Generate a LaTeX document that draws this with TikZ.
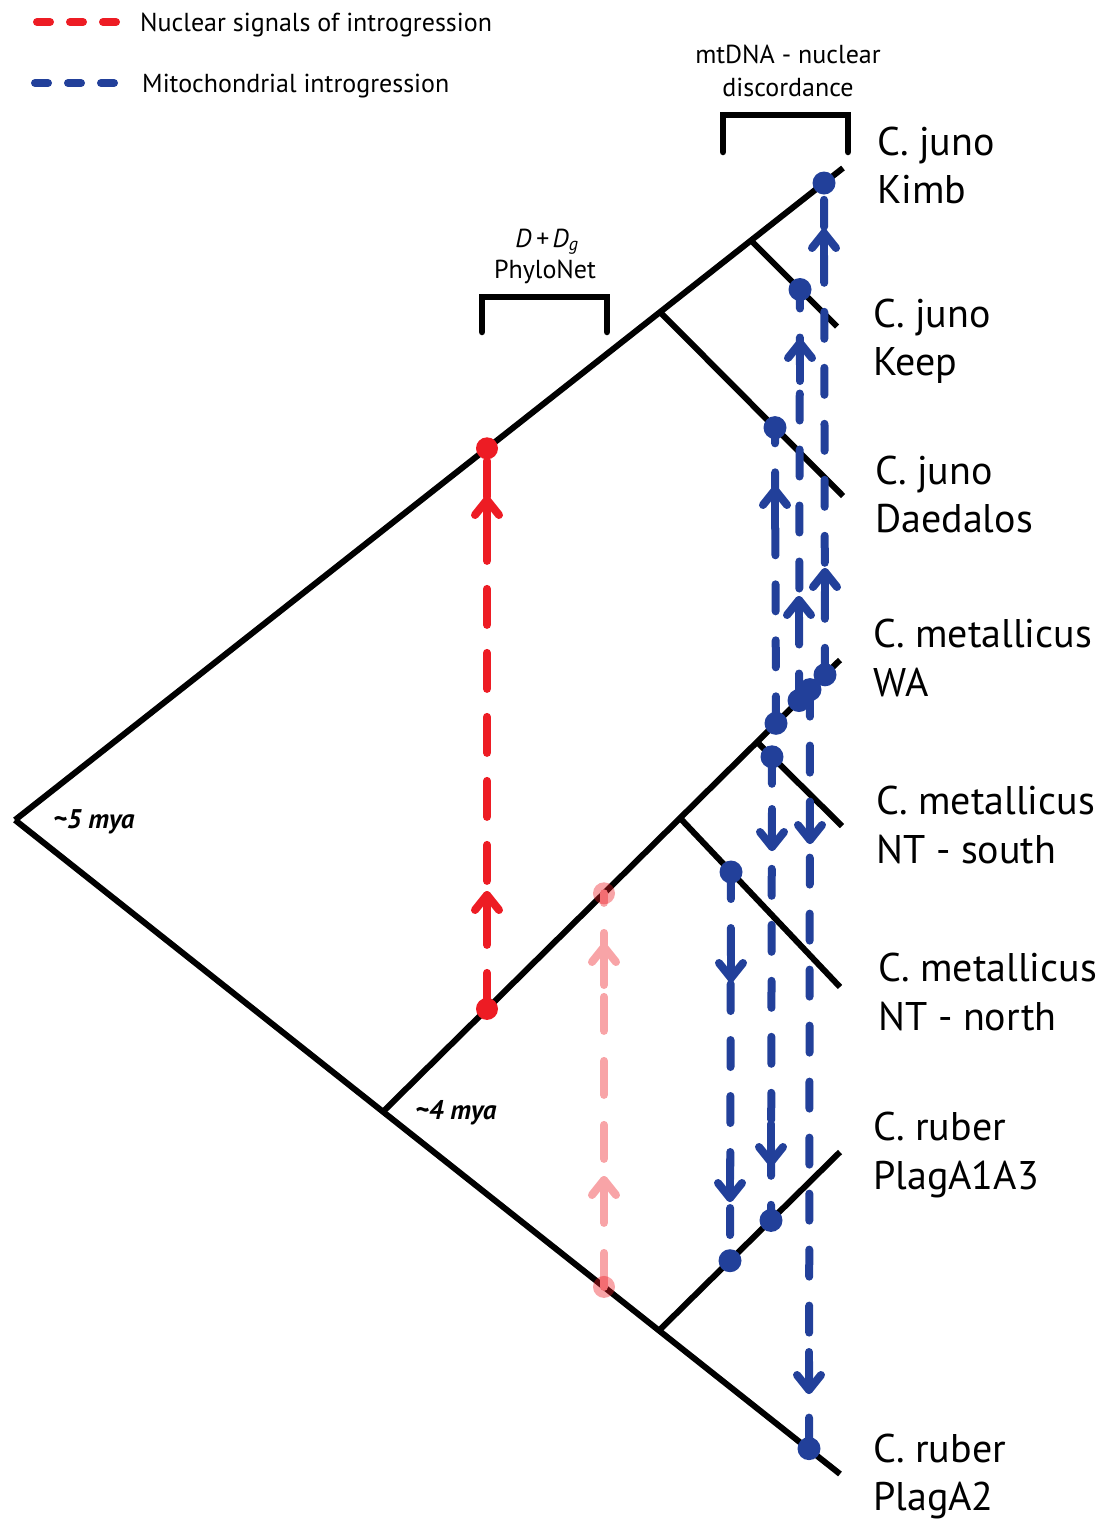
\documentclass[tikz,border=0pt]{standalone}
\usepackage{fontspec}
\setmainfont{PT Sans}
\usetikzlibrary{calc}
\definecolor{nucred}{RGB}{237,28,36}
\definecolor{nucpink}{RGB}{248,164,167}
\definecolor{mitoblue}{RGB}{34,64,154}
\tikzset{
  branch/.style={line width=6pt, line cap=butt},
  bracket/.style={line width=6.5pt, line cap=round, line join=miter},
  taxon/.style={anchor=base west, inner sep=0pt, font=\fontsize{40}{48}\selectfont},
  toplabel/.style={anchor=base, inner sep=0pt, font=\fontsize{26}{30}\selectfont},
  agelabel/.style={anchor=base west, inner sep=0pt, font=\fontsize{27}{30}\selectfont\bfseries\itshape},
  legtext/.style={anchor=base west, inner sep=0pt, font=\fontsize{26}{30}\selectfont},
  mito/.style={mitoblue, line width=8pt, line cap=round, dash pattern=on 27pt off 29pt},
  nuc/.style={nucred, line width=8pt, line cap=round, dash pattern=on 36pt off 28pt},
  nucfaint/.style={nucpink, line width=8pt, line cap=round, dash pattern=on 34pt off 30pt},
  legdash/.style={line width=8pt, line cap=round, dash pattern=on 13pt off 20pt},
  mitohead/.style={mitoblue, line width=8pt, line cap=round, line join=round},
  nuchead/.style={nucred, line width=8pt, line cap=round, line join=round},
  faintshead/.style={nucpink, line width=8pt, line cap=round, line join=round},
  upchev/.pic={
    \draw[pic actions] (0,0) -- (0,38);
    \draw[pic actions] (-12,15) -- (0,0) -- (12,15);
  },
  mitodot/.style={fill=mitoblue, draw=none},
  nucdot/.style={fill=nucred, draw=none},
  faintdot/.style={fill=nucred, fill opacity=0.4, draw=none},
}
\begin{document}
\begin{tikzpicture}[x=1pt, y=-1pt]
\useasboundingbox (0,0) rectangle (1105,1519);

% ---- tree nodes and tips ----
\coordinate (root) at (15,820);
\coordinate (tKimb) at (843,168);
\coordinate (nKeep) at (751,240.5);
\coordinate (tKeep) at (837,326.5);
\coordinate (nDaed) at (660,312);
\coordinate (tDaed) at (843,496);
\coordinate (tPlagB) at (840,1474);
\coordinate (nMet) at (383,1111.7);
\coordinate (nRuber) at (659,1330.5);
\coordinate (tPlagA) at (840,1152);
\coordinate (tWA) at (840,660);
\coordinate (nNTn) at (680,818);
\coordinate (tNTn) at (840,987);
\coordinate (nNTs) at (757,742);
\coordinate (tNTs) at (842,826);

% ---- branches ----
\draw[branch] (root) -- (tKimb);
\draw[branch] (nKeep) -- (tKeep);
\draw[branch] (nDaed) -- (tDaed);
\draw[branch] (root) -- (tPlagB);
\draw[branch] (nMet) -- (tWA);
\draw[branch] (nNTn) -- (tNTn);
\draw[branch] (nNTs) -- (tNTs);
\draw[branch] (nRuber) -- (tPlagA);

% ---- brackets ----
\draw[bracket] (723,152) -- (723,115) -- (848,115) -- (848,152);
\draw[bracket] (482,332) -- (482,297) -- (607,297) -- (607,332);
\node[toplabel] (mtA) at (788,63) {mtDNA - nuclear};
\node[toplabel] (mtB) at (788,96) {discordance};
\node[toplabel] (dstat) at (547,247) {\itshape D\,+\,D\textsubscript{g}};
\node[toplabel] (phylo) at (545,278) {PhyloNet};

% ---- event points on branches ----
\coordinate (dKimb) at (824,183);
\coordinate (dKeep) at (800,289.5);
\coordinate (dDaed) at (775,427.6);
\coordinate (dWAa) at (825,674.8);
\coordinate (dWAb) at (810,689.6);
\coordinate (dWAc) at (799,700.5);
\coordinate (dWAd) at (776,723.3);
\coordinate (dNTs) at (772,756.8);
\coordinate (dNTn) at (731,872);
\coordinate (dRa) at (730,1260.7);
\coordinate (dRb) at (771,1220.4);
\coordinate (dRc) at (809,1448.6);
\coordinate (rTop) at (487,448.3);
\coordinate (rBot) at (487,1008.9);
\coordinate (pTop) at (604,893.3);
\coordinate (pBot) at (604,1286.9);

% ---- nuclear introgression ----
\draw[nucfaint] (pBot) -- (pTop);
\pic[faintshead] at (604,947) {upchev};
\pic[faintshead] at (604,1180) {upchev};
\fill[faintdot] (pTop) circle (11);
\fill[faintdot] (pBot) circle (11);

\draw[nuc] (rBot) -- (rTop);
\pic[nuchead] at (487,500) {upchev};
\pic[nuchead] at (487,895) {upchev};
\fill[nucdot] (rTop) circle (11);
\fill[nucdot] (rBot) circle (11);

% ---- mitochondrial introgression ----
\draw[mito] (dWAa) -- (dKimb);
\pic[mitohead] at (824,233) {upchev};
\pic[mitohead] at (825,572) {upchev};
\draw[mito] (dWAc) -- (dKeep);
\pic[mitohead] at (800,343) {upchev};
\pic[mitohead] at (799,600) {upchev};
\draw[mito] (dWAd) -- (dDaed);
\pic[mitohead] at (775,490) {upchev};

\draw[mito] (dWAb) -- (dRc);
\pic[mitohead, rotate=180] at (810,840) {upchev};
\pic[mitohead, rotate=180] at (809,1390) {upchev};
\draw[mito] (dNTs) -- (dRb);
\pic[mitohead, rotate=180] at (772,847) {upchev};
\pic[mitohead, rotate=180] at (771,1162) {upchev};
\draw[mito] (dNTn) -- (dRa);
\pic[mitohead, rotate=180] at (731,978) {upchev};
\pic[mitohead, rotate=180] at (730,1198) {upchev};

\foreach \p in {dKimb,dKeep,dDaed,dWAa,dWAb,dWAc,dWAd,dNTs,dNTn,dRa,dRb,dRc}
  \fill[mitodot] (\p) circle (11.5);

% ---- ages ----
\node[agelabel] (age5) at (53,828) {\textasciitilde 5 mya};
\node[agelabel] (age4) at (415,1119) {\textasciitilde 4 mya};

% ---- taxa ----
\node[taxon] (kimbA) at (877,155) {C. juno};
\node[taxon] (kimbB) at (877,203) {Kimb};
\node[taxon] (keepA) at (873,327) {C. juno};
\node[taxon] (keepB) at (873,375) {Keep};
\node[taxon] (daedA) at (875,484) {C. juno};
\node[taxon] (daedB) at (875,532) {Daedalos};
\node[taxon] (waA) at (873,647) {C. metallicus};
\node[taxon] (waB) at (873,696) {WA};
\node[taxon] (ntsA) at (876,814) {C. metallicus};
\node[taxon] (ntsB) at (876,863) {NT - south};
\node[taxon] (ntnA) at (878,981) {C. metallicus};
\node[taxon] (ntnB) at (878,1030) {NT - north};
\node[taxon] (plagaA) at (873,1140) {C. ruber};
\node[taxon] (plagaB) at (873,1189) {PlagA1A3};
\node[taxon] (plagbA) at (873,1462) {C. ruber};
\node[taxon] (plagbB) at (873,1510) {PlagA2};

% ---- legend ----
\coordinate (legRa) at (37,22);
\coordinate (legRb) at (116,22);
\coordinate (legBa) at (35,83);
\coordinate (legBb) at (116,83);
\draw[legdash, nucred] (legRa) -- (legRb);
\draw[legdash, mitoblue] (legBa) -- (legBb);
\node[legtext] (legR) at (140,31) {Nuclear signals of introgression};
\node[legtext] (legB) at (142,92) {Mitochondrial introgression};
\end{tikzpicture}
\end{document}
